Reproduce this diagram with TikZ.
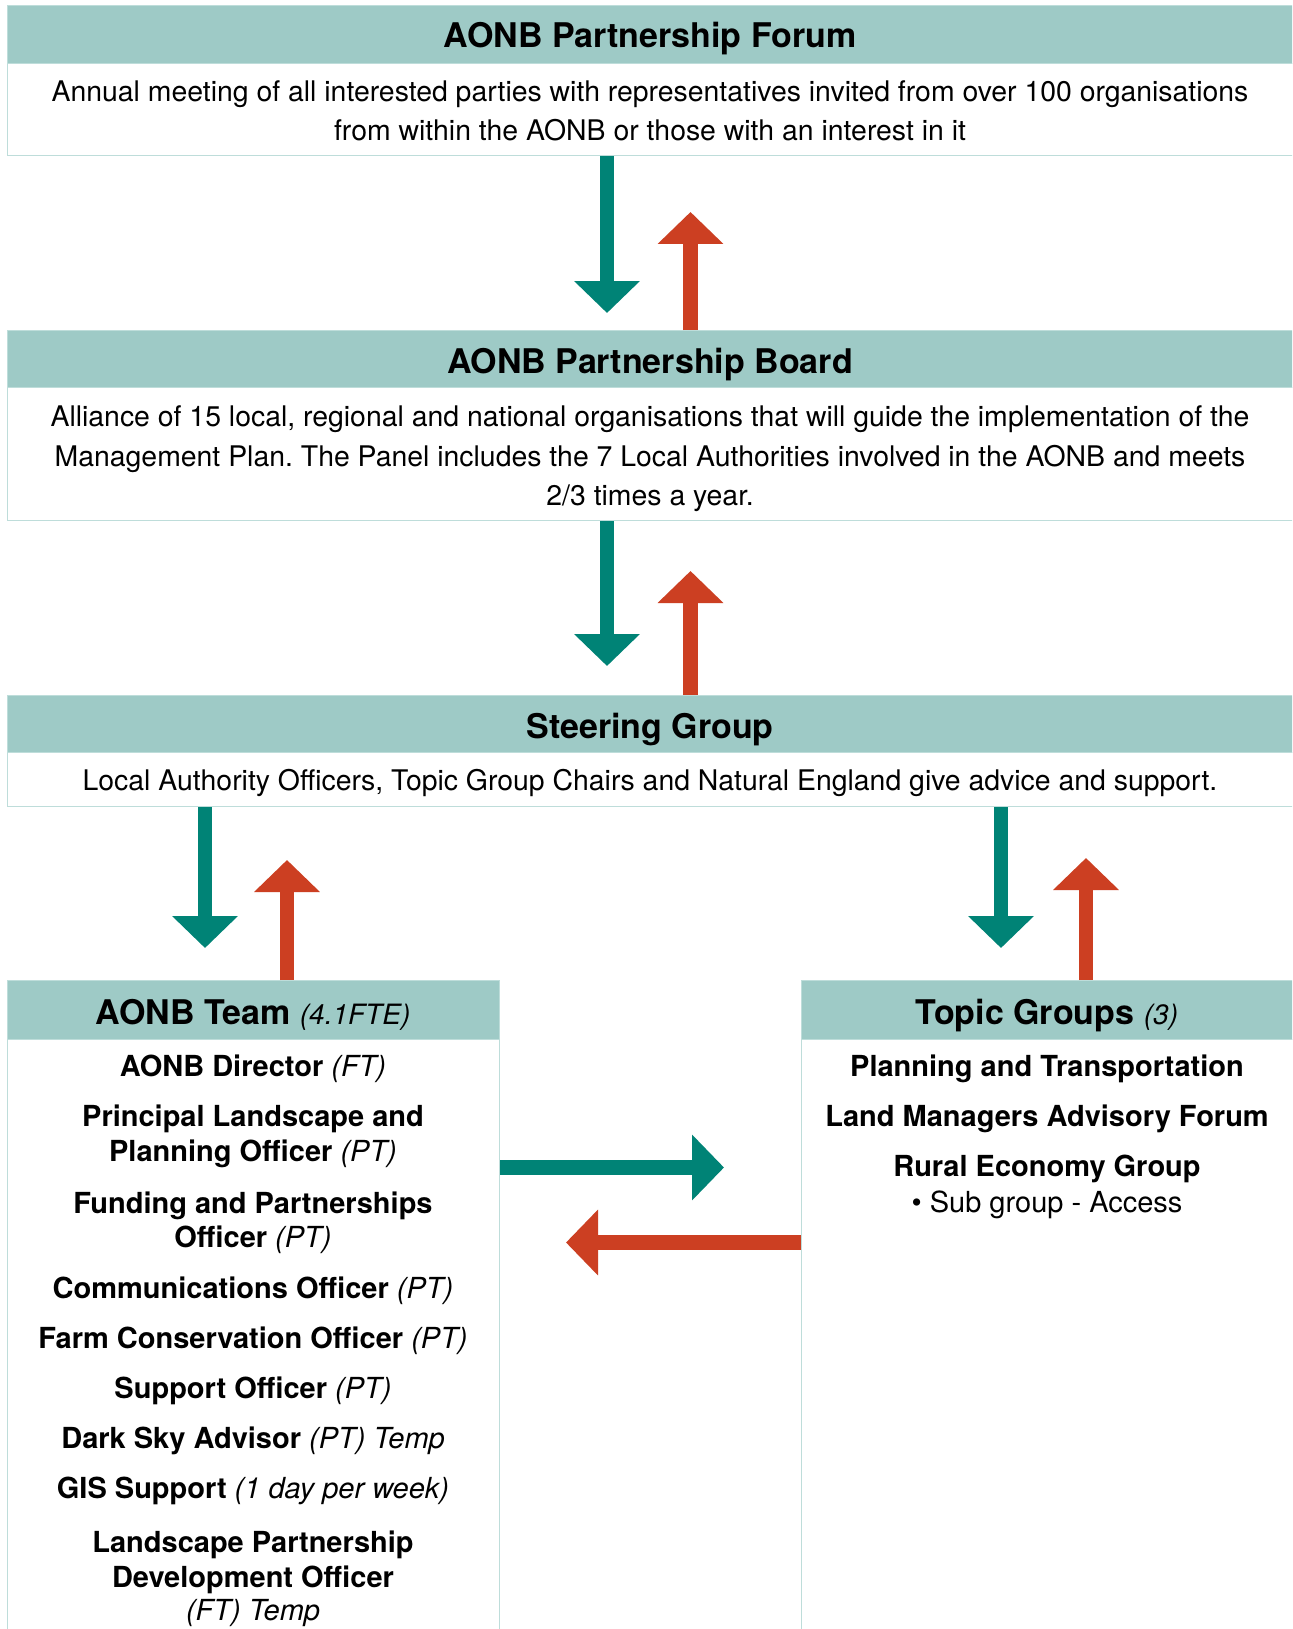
\documentclass[tikz,border=0pt]{standalone}
\usepackage{fontspec}
\setmainfont{TeX Gyre Heros}
\usetikzlibrary{arrows.meta}
\definecolor{hdrfill}{RGB}{158,202,198}
\definecolor{boxedge}{RGB}{190,221,218}
\definecolor{downgreen}{RGB}{0,131,118}
\definecolor{upred}{RGB}{204,63,34}
\frenchspacing
\begin{document}
\begin{tikzpicture}[x=1pt,y=-1pt,
  hdrbox/.style={draw=boxedge, line width=1.2pt, fill=hdrfill, anchor=north west, inner sep=0pt, minimum width=#1},
  bodybox/.style={draw=boxedge, line width=1.2pt, fill=white, anchor=north west, inner sep=0pt, minimum width=#1},
  titletxt/.style={anchor=base, inner sep=0pt, font=\fontsize{34}{40}\selectfont\bfseries},
  subtitletxt/.style={anchor=base, inner sep=0pt, font=\fontsize{32}{38}\selectfont},
  plaintxt/.style={anchor=base, inner sep=0pt, font=\frenchspacing\fontsize{28.4}{39.5}\selectfont},
  itemtxt/.style={anchor=base, inner sep=0pt, font=\fontsize{29}{34}\selectfont},
  greenarr/.style={draw=downgreen, line width=14.5pt, -{Triangle[width=64pt,length=32pt]}},
  redarr/.style={draw=upred, line width=14.5pt, -{Triangle[width=64pt,length=32pt]}}
]
\clip (0,0) rectangle (1292,1629);
\fill[white] (0,0) rectangle (1292,1629);

% ---- Forum
\node[hdrbox=1300pt, minimum height=58pt] (forumhdr) at (7,5) {};
\node[bodybox=1300pt, minimum height=92pt] (forumbody) at (7,63) {};
\node[titletxt] (forumtitle) at (650,47.2) {AONB Partnership Forum};
\node[plaintxt] (forumt1) at (650,101.2) {Annual meeting of all interested parties with representatives invited from over 100 organisations};
\node[plaintxt] (forumt2) at (650,140.7) {from within the AONB or those with an interest in it};

% ---- Board
\node[hdrbox=1300pt, minimum height=57pt] (boardhdr) at (7,330) {};
\node[bodybox=1300pt, minimum height=133pt] (boardbody) at (7,387) {};
\node[titletxt] (boardtitle) at (650,373.2) {AONB Partnership Board};
\node[plaintxt] (boardt1) at (650,426.7) {Alliance of 15 local, regional and national organisations that will guide the implementation of the};
\node[plaintxt] (boardt2) at (650,466.2) {Management Plan. The Panel includes the 7 Local Authorities involved in the AONB and meets};
\node[plaintxt] (boardt3) at (650,505.7) {2/3 times a year.};

% ---- Steering
\node[hdrbox=1300pt, minimum height=57pt] (steerhdr) at (7,695) {};
\node[bodybox=1300pt, minimum height=54pt] (steerbody) at (7,752) {};
\node[titletxt] (steertitle) at (650,738.2) {Steering Group};
\node[plaintxt] (steert1) at (650,790.2) {Local Authority Officers, Topic Group Chairs and Natural England give advice and support.};

% ---- AONB Team
\node[hdrbox=492pt, minimum height=59pt] (teamhdr) at (7,980) {};
\node[bodybox=492pt, minimum height=620pt] (teambody) at (7,1039) {};
\node[subtitletxt] (teamtitle) at (253,1024.2) {\bfseries\fontsize{34}{40}\selectfont AONB Team \mdseries\itshape\fontsize{28}{34}\selectfont(4.1FTE)};
\node[itemtxt] (tm1) at (253,1076.8) {\bfseries AONB Director \mdseries\itshape(FT)};
\node[itemtxt] (tm2a) at (253,1126.8) {\bfseries Principal Landscape and};
\node[itemtxt] (tm2b) at (253,1161.1) {\bfseries Planning Officer \mdseries\itshape(PT)};
\node[itemtxt] (tm3a) at (253,1213) {\bfseries Funding and Partnerships};
\node[itemtxt] (tm3b) at (253,1247.3) {\bfseries Officer \mdseries\itshape(PT)};
\node[itemtxt] (tm4) at (253,1298.2) {\bfseries Communications Officer \mdseries\itshape(PT)};
\node[itemtxt] (tm5) at (253,1348) {\bfseries Farm Conservation Officer \mdseries\itshape(PT)};
\node[itemtxt] (tm6) at (253,1398.9) {\bfseries Support Officer \mdseries\itshape(PT)};
\node[itemtxt] (tm7) at (253,1448.8) {\bfseries Dark Sky Advisor \mdseries\itshape(PT) Temp};
\node[itemtxt] (tm8) at (253,1498.8) {\bfseries GIS Support \mdseries\itshape(1 day per week)};
\node[itemtxt] (tm9a) at (253,1552.5) {\bfseries Landscape Partnership};
\node[itemtxt] (tm9b) at (253,1587.5) {\bfseries Development Officer};
\node[itemtxt] (tm9c) at (253,1620) {\itshape (FT) Temp};

% ---- Topic Groups
\node[hdrbox=500pt, minimum height=59pt] (topichdr) at (801,980) {};
\node[bodybox=500pt, minimum height=620pt] (topicbody) at (801,1039) {};
\node[subtitletxt] (topictitle) at (1047,1024.2) {\bfseries\fontsize{34}{40}\selectfont Topic Groups \mdseries\itshape\fontsize{28}{34}\selectfont(3)};
\node[itemtxt] (tp1) at (1047,1076.2) {\bfseries Planning and Transportation};
\node[itemtxt] (tp2) at (1047,1126.9) {\bfseries Land Managers Advisory Forum};
\node[itemtxt] (tp3) at (1047,1176) {\bfseries Rural Economy Group};
\node[itemtxt] (tp4) at (1047,1212) {\mdseries\textbullet\ Sub group - Access};

% ---- arrow tips
\coordinate (tipA) at (607,313);
\coordinate (tipB) at (690.5,212);
\coordinate (tipC) at (607,666);
\coordinate (tipD) at (690.5,571);
\coordinate (tipE) at (205,948);
\coordinate (tipF) at (287,860);
\coordinate (tipG) at (1001,948);
\coordinate (tipH) at (1086,858);
\coordinate (tipI) at (724,1167.5);
\coordinate (tipJ) at (566,1242.5);

\draw[greenarr] (forumbody.south -| tipA) -- (tipA);
\draw[redarr] (boardhdr.north -| tipB) -- (tipB);
\draw[greenarr] (boardbody.south -| tipC) -- (tipC);
\draw[redarr] (steerhdr.north -| tipD) -- (tipD);
\draw[greenarr] (steerbody.south -| tipE) -- (tipE);
\draw[redarr] (teamhdr.north -| tipF) -- (tipF);
\draw[greenarr] (steerbody.south -| tipG) -- (tipG);
\draw[redarr] (topichdr.north -| tipH) -- (tipH);
\draw[greenarr] (teambody.east |- tipI) -- (tipI);
\draw[redarr] (topicbody.west |- tipJ) -- (tipJ);
\end{tikzpicture}
\end{document}
